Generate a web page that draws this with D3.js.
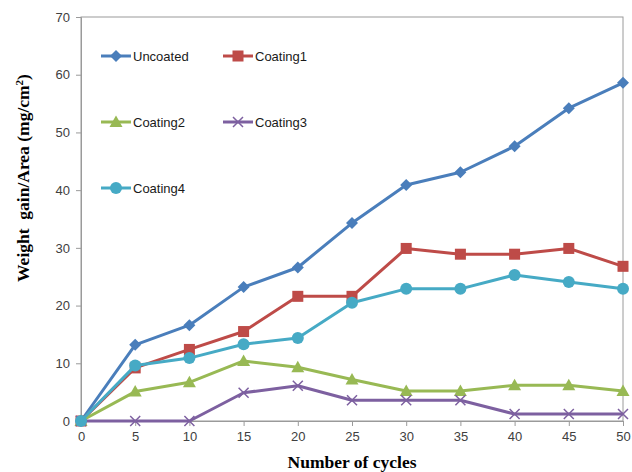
<!DOCTYPE html>
<html>
<head>
<meta charset="utf-8">
<script src="https://cdn.jsdelivr.net/npm/d3@7/dist/d3.min.js"></script>
<style>
  html, body { margin: 0; padding: 0; background: #fff; }
  svg { display: block; }
</style>
</head>
<body>
<svg id="chart" width="632" height="472"></svg>
<script>
// Weight gain per area over oxidation cycles
const cycles = [0, 5, 10, 15, 20, 25, 30, 35, 40, 45, 50];
const uncoated = [0, 13.2, 16.6, 23.2, 26.6, 34.3, 40.9, 43.1, 47.6, 54.2, 58.6];
const coating1 = [0, 9.2, 12.4, 15.5, 21.6, 21.6, 29.9, 28.9, 28.9, 29.9, 26.8];
const coating2 = [0, 5.1, 6.7, 10.4, 9.3, 7.2, 5.2, 5.2, 6.2, 6.2, 5.2];
const coating3 = [0, 0, 0, 4.9, 6.1, 3.6, 3.6, 3.6, 1.2, 1.2, 1.2];
const coating4 = [0, 9.6, 10.9, 13.3, 14.4, 20.5, 22.9, 22.9, 25.3, 24.1, 22.9];
const seriesNames = ["Uncoated", "Coating1", "Coating2", "Coating3", "Coating4"];
const yTicks = [0, 10, 20, 30, 40, 50, 60, 70];
const xTicks = cycles;

const seriesValues = [uncoated, coating1, coating2, coating3, coating4];
const colors = ["#4A7EBB", "#BE4B48", "#98B954", "#7D60A0", "#46AAC5"];
const markers = ["diamond", "square", "triangle", "cross", "circle"];

const svg = d3.select("#chart");
const margin = { left: 81, top: 17, right: 9, bottom: 51 };
const W = 632, H = 472;

const x = d3.scaleLinear().domain([0, 50]).range([margin.left, W - margin.right]);
const y = d3.scaleLinear().domain([0, 70]).range([H - margin.bottom, margin.top]);

const axisColor = "#9a9a9a";
const tickTextColor = "#404040";

// plot frame
svg.append("rect")
  .attr("x", x(0)).attr("y", y(70))
  .attr("width", x(50) - x(0)).attr("height", y(0) - y(70))
  .attr("fill", "none").attr("stroke", axisColor).attr("stroke-width", 1);

// y axis
const yAxis = svg.append("g")
  .attr("transform", `translate(${x(0)},0)`)
  .call(d3.axisLeft(y).tickValues(yTicks).tickSize(5).tickPadding(6).tickFormat(d3.format("d")));
// x axis
const xAxis = svg.append("g")
  .attr("transform", `translate(0,${y(0)})`)
  .call(d3.axisBottom(x).tickValues(xTicks).tickSize(5).tickPadding(6).tickFormat(d3.format("d")));

[yAxis, xAxis].forEach(g => {
  g.select(".domain").attr("stroke", axisColor);
  g.selectAll(".tick line").attr("stroke", axisColor);
  g.selectAll(".tick text")
    .attr("fill", tickTextColor)
    .style("font-family", "'Liberation Sans', Arial, sans-serif")
    .style("font-size", "13px");
});

// axis titles
svg.append("text")
  .attr("x", (x(0) + x(50)) / 2).attr("y", 468)
  .attr("text-anchor", "middle")
  .style("font-family", "'Liberation Serif', 'Times New Roman', serif")
  .style("font-weight", "bold").style("font-size", "17.5px")
  .attr("fill", "#000")
  .text("Number of cycles");

svg.append("text")
  .attr("transform", "translate(29,178) rotate(-90)")
  .attr("text-anchor", "middle")
  .style("font-family", "'Liberation Serif', 'Times New Roman', serif")
  .style("font-weight", "bold").style("font-size", "17.5px")
  .attr("fill", "#000")
  .attr("xml:space", "preserve")
  .style("white-space", "pre")
  .html("Weight  gain/Area (mg/cm<tspan baseline-shift=\"super\" font-size=\"11px\">2</tspan>)");

// marker drawing
function drawMarker(g, type, color) {
  if (type === "diamond") {
    g.append("path").attr("d", "M0,-6L6,0L0,6L-6,0Z").attr("fill", color);
  } else if (type === "square") {
    g.append("rect").attr("x", -5.5).attr("y", -5.5).attr("width", 11).attr("height", 11)
      .attr("fill", color);
  } else if (type === "triangle") {
    g.append("path").attr("d", "M0,-6.5L6.5,5L-6.5,5Z").attr("fill", color);
  } else if (type === "cross") {
    g.append("path").attr("d", "M-5,-5L5,5M-5,5L5,-5").attr("stroke", color)
      .attr("stroke-width", 1.5).attr("fill", "none");
  } else if (type === "circle") {
    g.append("circle").attr("r", 6).attr("fill", color);
  }
}

const line = d3.line().x((d, i) => x(cycles[i])).y(d => y(d));

seriesValues.forEach((vals, s) => {
  const g = svg.append("g").attr("class", "series");
  g.append("path").datum(vals)
    .attr("d", line)
    .attr("fill", "none")
    .attr("stroke", colors[s])
    .attr("stroke-width", 3)
    .attr("stroke-linejoin", "round");
  vals.forEach((v, i) => {
    const m = g.append("g").attr("transform", `translate(${x(cycles[i])},${y(v)})`);
    drawMarker(m, markers[s], colors[s]);
  });
});

// legend
const legendPos = [
  { lx: 101, ly: 56 }, { lx: 223, ly: 56 },
  { lx: 101, ly: 122 }, { lx: 223, ly: 122 },
  { lx: 101, ly: 188 }
];
seriesNames.forEach((name, s) => {
  const p = legendPos[s];
  const g = svg.append("g").attr("transform", `translate(${p.lx},${p.ly})`);
  g.append("line").attr("x1", 0).attr("x2", 30).attr("y1", 0).attr("y2", 0)
    .attr("stroke", colors[s]).attr("stroke-width", 3);
  const m = g.append("g").attr("transform", "translate(15,0)");
  drawMarker(m, markers[s], colors[s]);
  g.append("text").attr("x", 32).attr("y", 0).attr("dy", "0.35em")
    .style("font-family", "'Liberation Sans', Arial, sans-serif")
    .style("font-size", "13px")
    .attr("fill", "#1a1a1a")
    .text(name);
});
</script>
</body>
</html>
